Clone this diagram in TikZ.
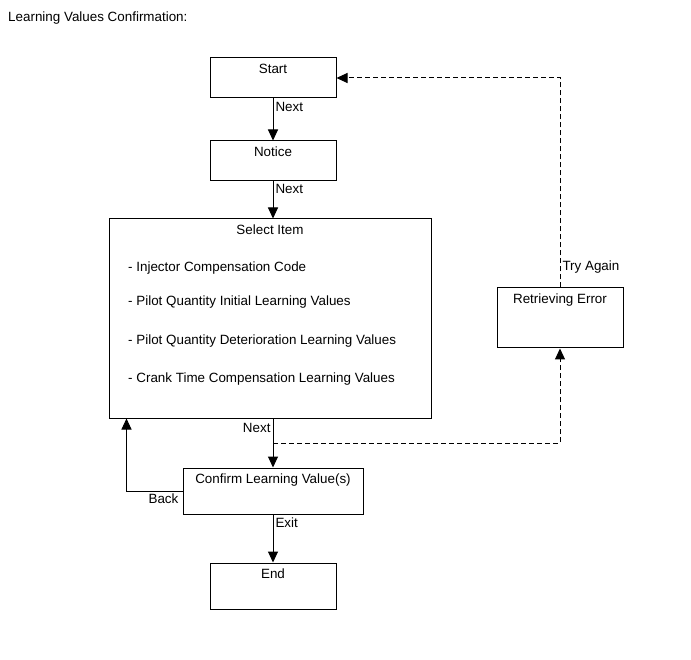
\documentclass[tikz,border=0pt]{standalone}
\usepackage{fontspec}
\setmainfont{Liberation Sans}
\usetikzlibrary{arrows.meta,positioning}

\begin{document}
\begin{tikzpicture}[x=1pt,y=-1pt,font=\fontsize{13.4}{16}\selectfont,
    box/.style={draw,line width=1pt,inner sep=0pt},
    ttl/.style={anchor=north,inner sep=0pt,yshift=-6pt},
    lbl/.style={inner sep=2pt},
    item/.style={anchor=west,inner sep=0pt},
    a/.style={-{Triangle[length=11pt,width=10pt]},line width=1pt},
    d/.style={a,dash pattern=on 5pt off 3pt}]
  \useasboundingbox[fill=white] (0,0) rectangle (691,660);
  \node[item] (title) at (8,18) {Learning Values Confirmation:};
  % boxes
  \node[box,minimum width=126,minimum height=40,label={[ttl]north:Start}] (start) at (273,78) {};
  \node[box,minimum width=126,minimum height=40,label={[ttl]north:Notice}] (notice) at (273,161) {};
  \node[box,minimum width=322,minimum height=199,label={[ttl]north:Select Item}] (select) at (270,318.5) {};
  \node[box,minimum width=126,minimum height=60,label={[ttl]north:Retrieving Error}] (retry) at (560,318) {};
  \node[box,minimum width=180,minimum height=46,label={[ttl]north:Confirm Learning Value(s)}] (confirm) at (273,491) {};
  \node[box,minimum width=126,minimum height=46,label={[ttl]north:End}] (end) at (273,586) {};
  % items
  \node[item] (i1) at (128,268) {- Injector Compensation Code};
  \node[item] (i2) at (128,302) {- Pilot Quantity Initial Learning Values};
  \node[item] (i3) at (128,341) {- Pilot Quantity Deterioration Learning Values};
  \node[item] (i4) at (128,379) {- Crank Time Compensation Learning Values};
  % connectors
  \draw[a] (start) -- node[lbl,pos=0.2,right]{Next} (notice);
  \draw[a] (notice.south) -- node[lbl,pos=0.2,right]{Next} (notice.south |- select.north);
  \draw[a] (select.south -| confirm.north) -- node[lbl,pos=0.2,left]{Next} (confirm);
  \draw[a] (confirm) -- node[lbl,pos=0.17,right]{Exit} (end);
  \draw[a] (confirm.west) -| node[lbl,pos=0.17,below]{Back} ([xshift=18]select.south west);
  \coordinate (split) at (273,443);
  \draw[d] (split) -| (retry.south);
  \draw[d] (retry.north) |- node[lbl,pos=0.05,right]{Try Again} (start.east);
\end{tikzpicture}
\end{document}
